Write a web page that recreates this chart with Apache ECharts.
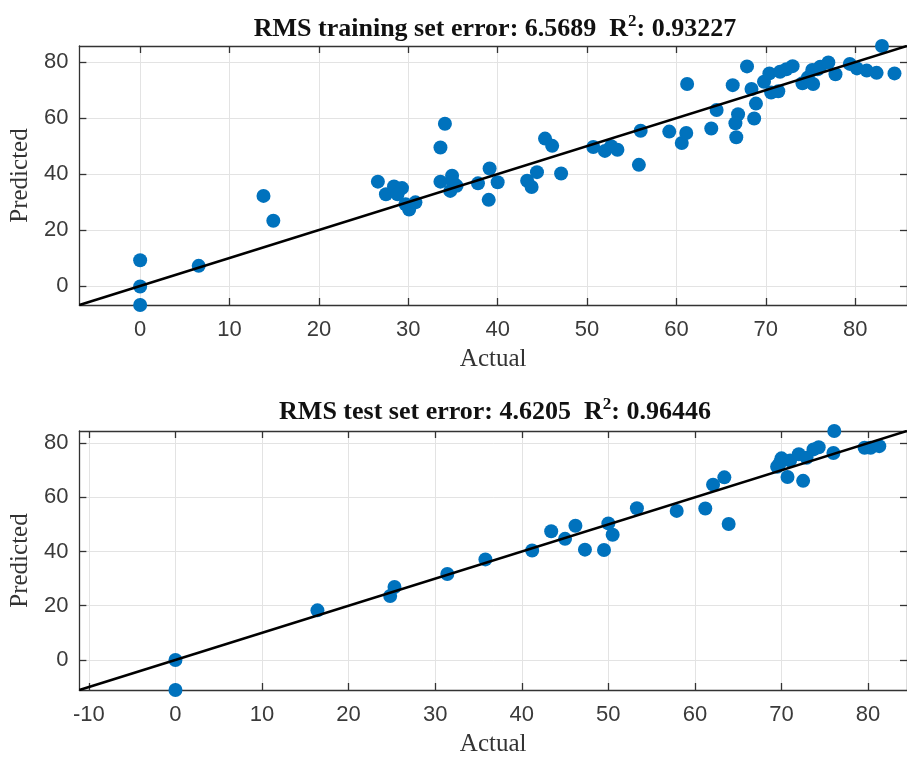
<!DOCTYPE html>
<html>
<head>
<meta charset="utf-8">
<script src="https://cdn.jsdelivr.net/npm/echarts@6/dist/echarts.min.js"></script>
<style>
  html, body { margin: 0; padding: 0; background: #fff; }
  #chart { width: 907px; height: 758px; }
</style>
</head>
<body>
<div id="chart"></div>
<script>
// Training set: actual vs predicted
const trainActual = [0, 0, 0, 6.55, 13.8, 14.9,
  26.6, 27.5, 28.4, 29.3, 28.8, 29.7, 30.1, 30.8,
  33.6, 34.1, 33.6, 34.9, 35.0, 34.7, 35.4,
  37.8, 39.1, 40.0, 39.0, 43.3, 43.8, 44.4, 45.3, 46.1, 47.1,
  50.7, 52.0, 52.7, 53.4, 56.0, 55.8, 59.2, 60.6, 61.1, 61.2,
  63.9, 64.5, 66.3, 66.9, 66.6, 66.7, 67.9, 68.4, 68.9, 68.7,
  69.8, 70.4, 70.6, 71.4, 71.6, 72.3, 73.0, 74.1, 74.7, 75.3, 75.2, 75.8, 76.1, 77.0, 77.8,
  79.4, 80.2, 81.3, 82.4, 83.0, 84.4];
const trainPredicted = [9.2, -0.2, -6.8, 7.2, 32.2, 23.3,
  37.3, 32.8, 35.6, 35.0, 32.8, 29.2, 27.3, 29.9,
  49.5, 58.0, 37.3, 39.4, 37.0, 34.0, 35.8,
  36.7, 42.0, 37.1, 30.8, 37.6, 35.4, 40.7, 52.7, 50.1, 40.2,
  49.7, 48.3, 50.0, 48.7, 55.5, 43.3, 55.2, 51.1, 54.7, 72.2,
  56.3, 62.9, 71.8, 61.4, 58.2, 53.2, 78.5, 70.4, 65.2, 59.9,
  73.0, 76.0, 69.2, 69.6, 76.6, 77.5, 78.6, 72.5, 74.5, 72.2, 77.2, 77.5, 78.4, 79.9, 75.7,
  79.4, 77.8, 77.0, 76.2, 85.8, 76.0];

// Test set: actual vs predicted
const testActual = [0, 0, 16.4, 24.8, 25.3, 31.4, 35.8, 41.2, 43.4, 45.0, 46.2, 47.3, 49.5,
  50.0, 50.5, 53.3, 57.9, 61.2, 62.1, 63.4, 63.9, 69.5, 70.0, 70.7, 71.0, 72.0, 72.5,
  72.9, 73.7, 74.3, 76.0, 76.1, 79.6, 80.3, 81.3, 69.8];
const testPredicted = [0, -11.1, 18.3, 23.6, 26.9, 31.7, 37.1, 40.4, 47.5, 44.7, 49.5, 40.7, 40.6,
  50.4, 46.2, 56.0, 55.0, 55.9, 64.7, 67.4, 50.2, 71.3, 74.4, 67.5, 73.6, 75.9, 66.1,
  74.6, 77.7, 78.5, 76.4, 84.5, 78.3, 78.3, 78.9, 72.6];

// Axis limits (span of all values) and tick positions
const trainLim = [-6.8, 85.8];
const testLim = [-11.1, 84.5];
const trainXTicks = [0, 10, 20, 30, 40, 50, 60, 70, 80];
const testXTicks = [-10, 0, 10, 20, 30, 40, 50, 60, 70, 80];
const yTicks = [0, 20, 40, 60, 80];

const titles = [
  ['RMS training set error: 6.5689  R', '2', ': 0.93227'],
  ['RMS test set error: 4.6205  R', '2', ': 0.96446']
];

const pairs = (xs, ys) => xs.map((x, i) => [x, ys[i]]);

const axisColor = '#333333';
const serif = '"Liberation Serif", "Times New Roman", serif';
const sans = '"Liberation Sans", Arial, sans-serif';

function xAxes(gridIndex, lim, ticks) {
  const base = {
    type: 'value', gridIndex, min: lim[0], max: lim[1],
    axisLine: { show: true, onZero: false, lineStyle: { color: axisColor, width: 1.3 } },
    axisTick: { show: true, inside: true, length: 7, customValues: ticks, lineStyle: { color: axisColor, width: 1.3 } },
  };
  return [
    Object.assign({}, base, {
      position: 'bottom',
      name: 'Actual', nameLocation: 'middle', nameGap: 42,
      nameTextStyle: { fontFamily: serif, fontSize: 25, color: '#333' },
      axisLabel: { show: true, customValues: ticks, margin: 14, fontFamily: sans, fontSize: 22, color: '#3a3a3a' },
      splitLine: { show: true, lineStyle: { color: '#e3e3e3', width: 1 } }
    }),
    Object.assign({}, base, {
      position: 'top',
      axisLabel: { show: false },
      splitLine: { show: false }
    })
  ];
}

function yAxes(gridIndex, lim) {
  const base = {
    type: 'value', gridIndex, min: lim[0], max: lim[1],
    axisLine: { show: true, onZero: false, lineStyle: { color: axisColor, width: 1.3 } },
    axisTick: { show: true, inside: true, length: 7, customValues: yTicks, lineStyle: { color: axisColor, width: 1.3 } },
  };
  return [
    Object.assign({}, base, {
      position: 'left',
      name: 'Predicted', nameLocation: 'middle', nameGap: 42, nameRotate: 90,
      nameTextStyle: { fontFamily: serif, fontSize: 25, color: '#333' },
      axisLabel: { show: true, customValues: yTicks, margin: 11, fontFamily: sans, fontSize: 22, color: '#3a3a3a' },
      splitLine: { show: true, lineStyle: { color: '#e3e3e3', width: 1 } }
    }),
    Object.assign({}, base, {
      position: 'right',
      axisLabel: { show: false },
      splitLine: { show: false }
    })
  ];
}

// Title with a raised superscript: the exponent's box is padded below so it sits high in the line
function titleText(parts, y) {
  return {
    type: 'text', x: 495, y,
    style: {
      text: parts[0] + '{s|' + parts[1] + '}' + parts[2],
      textAlign: 'center',
      fontFamily: serif, fontWeight: 'bold', fontSize: 26, fill: '#111',
      rich: { s: { fontFamily: serif, fontWeight: 'bold', fontSize: 17, padding: [0, 0, 16, 0], fill: '#111' } }
    }
  };
}

function scatter(xi, yi, xs, ys) {
  return {
    type: 'scatter', xAxisIndex: xi, yAxisIndex: yi,
    data: pairs(xs, ys), symbolSize: 14,
    itemStyle: { color: '#0072BD', opacity: 1 }, z: 3
  };
}

function fitLine(xi, yi, lim) {
  return {
    type: 'line', xAxisIndex: xi, yAxisIndex: yi,
    data: [[lim[0], lim[0]], [lim[1], lim[1]]],
    symbol: 'none', lineStyle: { color: '#000', width: 2.6 }, z: 4, silent: true
  };
}

const chart = echarts.init(document.getElementById('chart'), null, { renderer: 'canvas' });
chart.setOption({
  animation: false,
  backgroundColor: '#fff',
  grid: [
    { left: 76, top: 46, width: 838, height: 259 },
    { left: 76, top: 431, width: 838, height: 260 }
  ],
  xAxis: [].concat(xAxes(0, trainLim, trainXTicks), xAxes(1, testLim, testXTicks)),
  yAxis: [].concat(yAxes(0, trainLim), yAxes(1, testLim)),
  graphic: [titleText(titles[0], 13), titleText(titles[1], 396)],
  series: [
    scatter(0, 0, trainActual, trainPredicted),
    fitLine(0, 0, trainLim),
    scatter(2, 2, testActual, testPredicted),
    fitLine(2, 2, testLim)
  ]
});
</script>
</body>
</html>
